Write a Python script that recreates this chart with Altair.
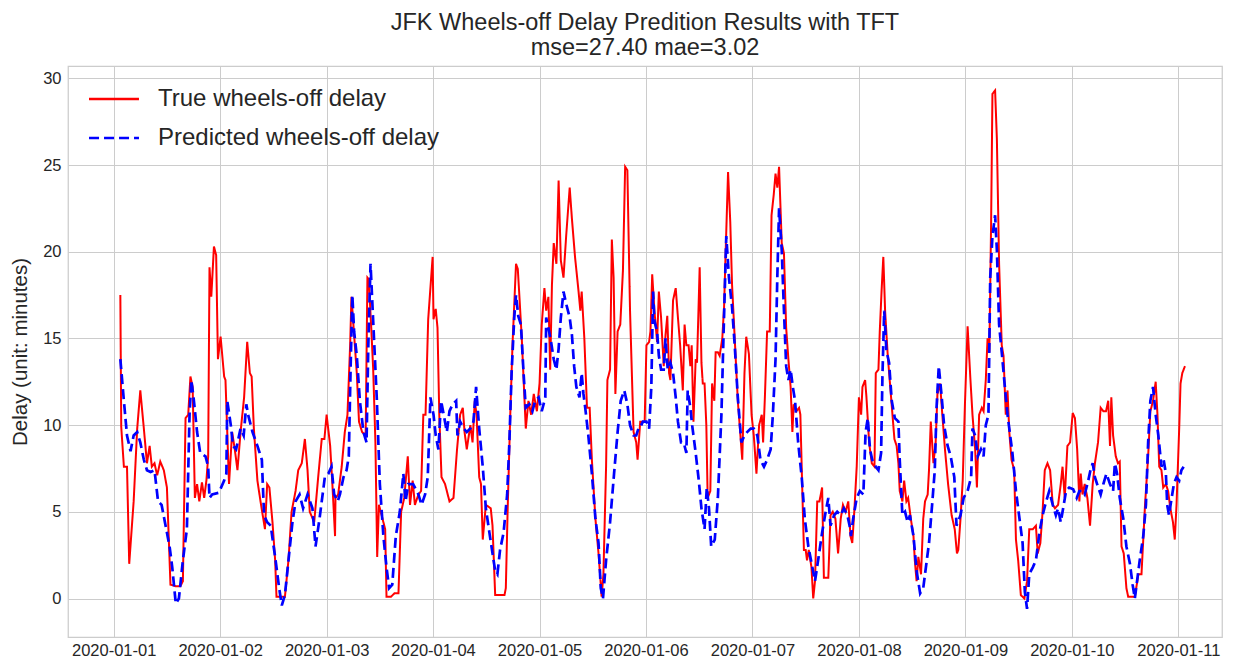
import altair as alt
import pandas as pd

# hours after 2020-01-01 00:00 (vertex positions)
true_hours = [1.5, 1.7, 2.3, 3.0, 3.5, 4.5, 5.3, 6.0, 6.8, 7.5, 8.1, 8.6, 9.2, 9.8, 10.5, 11.3, 12.0, 12.4, 12.8, 14.1,
              15.0, 15.6, 16.2, 16.8, 17.3, 17.8, 18.3, 18.8, 19.3, 19.9, 20.4, 20.9, 21.3, 21.6, 22.0, 22.6, 23.1, 23.5,
              24.1, 24.9, 25.2, 26.0, 26.7, 27.3, 27.9, 28.6, 29.4, 30.1, 30.7, 31.1, 31.6, 32.4, 33.1, 34.1, 34.6, 35.1,
              35.8, 36.4, 36.7, 38.6, 39.4, 40.1, 41.0, 41.6, 42.4, 43.1, 43.7, 44.2, 45.2, 46.1, 46.9, 47.5, 48.0, 48.8,
              49.3, 49.9, 50.0, 50.6, 51.4, 52.1, 52.7, 53.3, 53.6, 54.2, 54.8, 55.3, 56.0, 56.8, 57.2, 57.5, 58.1, 58.5,
              59.0, 59.4, 59.8, 60.6, 61.2, 61.5, 62.5, 63.3, 64.2, 64.8, 65.5, 66.3, 66.8, 67.4, 67.9, 68.7, 69.3, 69.8,
              70.3, 70.9, 71.9, 72.1, 72.6, 73.0, 73.4, 73.9, 74.7, 75.7, 76.6, 77.4, 78.1, 78.7, 79.1, 79.6, 80.4, 80.9,
              81.4, 81.8, 82.4, 82.8, 83.2, 83.9, 85.0, 85.4, 86.0, 88.1, 88.4, 88.8, 89.4, 89.9, 90.7, 91.1, 91.4, 92.0,
              92.9, 93.5, 94.1, 94.7, 95.4, 96.0, 96.5, 97.1, 97.5, 98.0, 98.4, 98.8, 99.2, 99.8, 100.3, 100.8, 101.4,
              102.0, 102.8, 103.3, 104.0, 104.8, 105.2, 105.5, 106.1, 106.7, 107.3, 107.8, 108.6, 109.3, 110.0, 110.4,
              111.0, 111.3, 111.9, 112.3, 112.7, 113.1, 113.6, 114.2, 114.8, 115.3, 115.8, 116.4, 117.2, 117.8, 118.1,
              118.7, 119.7, 120.1, 120.7, 121.0, 121.4, 121.9, 122.5, 122.9, 123.4, 124.0, 124.4, 124.8, 125.2, 125.5,
              126.1, 126.7, 127.2, 127.7, 128.3, 128.7, 129.1, 129.6, 130.0, 130.3, 130.7, 131.2, 131.5, 132.1, 132.5,
              132.8, 133.2, 133.6, 133.9, 134.5, 134.9, 135.4, 135.7, 136.2, 136.6, 137.2, 137.6, 137.9, 138.5, 139.0,
              139.4, 140.0, 140.7, 141.7, 142.2, 142.6, 143.2, 143.8, 144.3, 144.9, 145.5, 146.1, 146.4, 146.8, 147.3,
              147.9, 148.3, 148.8, 149.2, 149.6, 150.0, 150.6, 151.1, 151.6, 152.1, 152.6, 153.0, 153.3, 153.9, 154.5,
              154.8, 155.2, 155.6, 156.0, 156.3, 156.7, 157.3, 157.7, 158.1, 158.6, 159.1, 159.7, 160.1, 161.1, 161.6,
              162.1, 162.7, 163.3, 163.9, 164.4, 165.0, 165.6, 166.1, 166.5, 167.0, 167.5, 168.0, 168.5, 168.8, 169.4,
              169.7, 170.3, 170.9, 171.5, 171.8, 172.4, 172.7, 173.1, 173.5, 173.9, 174.5, 175.0, 175.5, 176.0, 176.5,
              176.9, 177.2, 177.8, 178.2, 178.7, 179.1, 179.7, 180.3, 180.6, 181.0, 181.4, 182.0, 182.5, 182.9, 183.5,
              183.8, 184.2, 184.8, 185.3, 185.7, 186.3, 186.8, 187.4, 188.1, 188.9, 189.6, 190.1, 190.4, 190.9, 191.4,
              191.9, 192.5, 193.1, 193.6, 194.2, 194.6, 195.1, 195.7, 196.1, 196.6, 197.0, 197.4, 197.8, 198.1, 198.7,
              199.1, 199.6, 200.2, 200.6, 201.1, 201.5, 201.9, 202.4, 203.0, 203.4, 203.9, 204.5, 205.3, 205.9, 206.4,
              207.2, 207.9, 208.3, 208.9, 209.4, 209.9, 210.5, 211.1, 211.7, 212.2, 212.9, 213.5, 213.9, 214.4, 215.0,
              215.6, 216.2, 216.7, 217.2, 217.7, 218.0, 218.4, 218.9, 219.5, 220.1, 220.7, 221.2, 221.9, 222.5, 223.1,
              223.7, 224.2, 224.6, 224.9, 225.3, 225.9, 226.4, 226.8, 227.2, 227.7, 228.3, 228.7, 230.2, 231.0, 231.7,
              232.5, 233.2, 233.7, 234.3, 234.9, 235.3, 235.7, 236.2, 236.6, 237.2, 237.7, 238.2, 238.8, 239.2, 239.6,
              240.2, 240.5, 240.9, 241.5]
true_vals = [17.5, 9.9, 7.6, 7.6, 2.0, 5.6, 9.8, 12.0, 9.8, 7.8, 8.8, 7.6, 7.8, 7.1, 7.9, 7.4, 6.4, 3.6, 0.8, 0.7,
             0.7, 1.0, 10.4, 10.6, 12.8, 12.2, 5.8, 6.6, 5.6, 6.7, 5.8, 6.8, 8.2, 19.1, 17.4, 20.3, 19.8, 13.8,
             15.1, 12.8, 12.6, 6.6, 9.6, 8.6, 7.4, 9.6, 11.6, 14.8, 13.0, 12.8, 9.8, 6.8, 5.6, 4.0, 6.6, 6.4,
             4.4, 2.2, 0.1, 0.1, 2.2, 5.0, 6.2, 7.4, 7.8, 9.2, 7.4, 5.0, 4.4, 7.0, 9.2, 9.2, 10.6, 8.8,
             6.6, 3.6, 5.8, 6.0, 7.6, 9.6, 10.6, 14.6, 17.4, 15.2, 13.0, 10.2, 9.6, 9.4, 18.5, 18.4, 15.4, 13.2,
             9.0, 2.4, 5.4, 4.6, 4.0, 0.1, 0.1, 0.3, 0.3, 5.0, 5.8, 8.2, 5.4, 6.8, 5.4, 6.0, 6.2, 10.6,
             10.6, 16.1, 19.7, 16.1, 16.7, 15.6, 10.6, 7.0, 6.6, 5.6, 5.8, 8.6, 10.6, 11.0, 9.6, 8.6, 10.0, 9.0,
             11.4, 10.6, 7.0, 6.6, 3.4, 5.4, 5.2, 4.2, 0.2, 0.2, 0.6, 5.0, 10.6, 14.6, 19.3, 19.0, 17.7, 15.0,
             9.8, 11.4, 10.6, 11.8, 10.8, 12.4, 15.8, 17.9, 16.6, 17.4, 13.2, 18.1, 20.5, 19.3, 24.1, 19.5, 18.5,
             20.9, 23.7, 21.9, 19.7, 17.7, 16.6, 17.7, 15.0, 11.0, 11.0, 8.0, 4.6, 2.6, 0.1, 1.4,
             7.6, 12.6, 13.2, 20.7, 18.5, 11.8, 15.4, 15.8, 18.9, 24.9, 24.7, 16.6, 9.6, 9.0, 8.0,
             10.2, 10.2, 14.6, 14.8, 15.4, 18.7, 16.6, 14.8, 17.7, 16.2, 13.4, 15.2, 16.3, 13.0, 12.6,
             17.2, 17.9, 16.2, 14.6, 12.0, 15.8, 14.6, 14.6, 13.4, 14.6, 10.2, 13.8, 13.6, 19.1, 13.6,
             12.4, 12.4, 10.0, 5.8, 6.2, 12.4, 11.4, 14.2, 14.2, 14.0, 15.0, 16.8, 19.5, 24.6, 21.7,
             18.1, 15.0, 11.4, 8.0, 13.0, 15.1, 14.1, 10.6, 9.4, 7.2, 10.0, 10.6, 9.0, 11.6, 15.4,
             15.4, 22.1, 23.3, 24.5, 23.7, 24.9, 20.5, 19.9, 15.6, 13.8, 12.2, 9.6, 11.2, 10.8, 11.0,
             10.6, 6.6, 2.8, 2.8, 2.2, 2.8, 1.8, 0.0, 1.0, 5.6, 5.6, 6.4, 1.2, 1.2, 4.8,
             5.0, 4.6, 2.6, 4.6, 5.4, 5.0, 5.6, 3.6, 3.2, 5.2, 7.6, 11.6, 10.6, 12.2, 12.6,
             11.6, 9.0, 7.8, 7.6, 13.0, 13.2, 15.4, 17.7, 19.7, 16.6, 14.0, 12.4, 10.8, 9.2, 8.8,
             7.8, 6.2, 5.6, 6.8, 5.6, 5.8, 4.6, 3.6, 2.2, 1.0, 2.4, 1.4, 4.6, 5.6, 6.0,
             7.4, 10.2, 7.8, 9.0, 11.8, 12.4, 10.6, 8.6, 6.6, 4.8, 4.0, 2.6, 2.8, 4.6, 6.8,
             11.2, 15.7, 12.8, 10.6, 8.6, 6.4, 10.6, 11.0, 10.8, 12.6, 15.0, 14.2, 21.7, 29.1, 29.3,
             26.5, 19.3, 14.6, 14.0, 10.6, 12.0, 9.6, 8.0, 7.4, 3.4, 2.2, 0.2, 0.0, 1.0, 4.0,
             4.0, 4.2, 2.6, 3.2, 5.0, 7.4, 7.8, 7.4, 5.4, 5.2, 5.4, 6.6, 7.6, 5.8, 8.8,
             9.0, 10.7, 10.4, 8.6, 5.6, 7.2, 6.0, 6.6, 5.8, 4.2, 6.6, 7.8, 9.0, 11.0, 10.8,
             10.8, 11.4, 8.8, 11.6, 9.4, 8.2, 7.8, 7.9, 3.0, 2.6, 0.6, 0.1, 0.1, 1.4, 1.4,
             5.4, 8.2, 10.8, 11.4, 12.5, 10.6, 7.6, 7.4, 6.4, 6.6, 6.2, 5.2, 4.4, 3.4, 5.4,
             9.8, 12.4, 13.0, 13.4]

pred_hours = [1.5, 2.3, 3.0, 3.8, 4.5, 5.3, 6.0, 6.8, 7.5, 8.3, 9.2, 10.0, 10.8, 11.7, 12.6, 13.2, 14.0, 14.7, 15.6,
              16.5, 17.1, 17.5, 18.0, 18.8, 19.5, 20.7, 21.3, 21.6, 22.2, 23.7, 24.9, 25.4, 25.6, 26.4, 26.9, 27.6,
              28.6, 29.3, 29.9, 30.3, 31.3, 32.4, 33.4, 33.9, 34.6, 35.4, 36.5, 37.3, 37.9, 38.6, 39.4, 40.3, 41.0,
              41.9, 42.7, 43.7, 44.8, 45.5, 46.4, 46.9, 47.6, 48.4, 49.1, 49.7, 50.5, 51.0, 51.8, 52.5, 53.0, 53.4,
              53.8, 54.2, 54.8, 55.5, 56.3, 57.0, 57.4, 57.9, 58.5, 59.3, 60.0, 60.8, 61.5, 62.1, 62.8, 63.6, 64.5,
              65.3, 65.8, 66.4, 67.5, 68.7, 69.4, 70.2, 70.8, 71.4, 72.1, 72.6, 73.2, 73.8, 74.4, 75.1, 75.7, 76.4,
              77.2, 77.5, 78.1, 78.9, 79.6, 80.4, 81.1, 81.7, 82.4, 83.2, 83.9, 84.7, 85.4, 86.0, 86.5, 87.1, 87.9,
              88.7, 89.2, 89.7, 90.3, 90.7, 91.2, 91.8, 92.4, 92.9, 93.7, 94.4, 95.0, 95.8, 96.5, 97.3, 97.5, 98.0,
              98.6, 99.2, 99.8, 100.3, 100.8, 101.4, 102.0, 102.8, 103.3, 103.8, 104.3, 105.0, 105.5, 105.9, 106.3,
              107.0, 107.8, 108.6, 109.3, 109.8, 110.3, 111.0, 111.9, 112.8, 113.6, 114.3, 115.1, 115.8, 116.4,
              117.2, 117.8, 118.3, 118.6, 119.3, 120.1, 120.7, 121.2, 121.6, 121.9, 122.5, 122.9, 123.4, 124.0,
              124.4, 124.9, 125.5, 126.1, 126.7, 127.2, 127.9, 128.5, 129.1, 129.4, 130.0, 130.4, 131.2, 131.9,
              132.5, 133.2, 133.7, 134.2, 134.7, 135.5, 136.2, 137.0, 137.5, 138.1, 138.7, 139.4, 140.0, 140.7,
              141.5, 142.2, 142.8, 143.6, 144.3, 145.1, 145.8, 146.6, 147.3, 148.1, 148.6, 149.2, 149.6, 150.0,
              150.6, 151.1, 151.6, 152.1, 152.6, 153.1, 153.6, 154.3, 155.1, 155.8, 156.6, 157.5, 158.1, 158.8,
              159.7, 160.5, 161.1, 161.6, 162.4, 163.1, 163.9, 164.6, 165.4, 165.9, 166.2, 166.7, 167.5, 168.2,
              169.0, 169.5, 170.0, 170.5, 171.0, 171.8, 172.4, 173.0, 173.3, 173.7, 174.2, 174.8, 175.4, 176.1,
              176.9, 177.2, 177.8, 178.4, 179.0, 179.5, 180.3, 181.0, 181.8, 182.5, 183.0, 183.8, 184.5, 185.1,
              185.5, 186.0, 186.6, 187.2, 188.0, 188.7, 189.5, 190.0, 190.9, 191.6, 192.5, 193.3, 193.6, 194.2,
              194.8, 195.5, 196.1, 196.6, 197.2, 197.6, 198.1, 198.7, 199.1, 199.6, 200.2, 200.9, 201.5, 202.1,
              202.6, 203.4, 204.2, 204.9, 205.4, 205.9, 206.4, 207.2, 207.9, 208.7, 209.4, 210.2, 210.9, 211.7,
              212.4, 212.9, 213.5, 214.7, 215.4, 216.3, 217.1, 217.7, 218.4, 218.9, 219.7, 220.2, 220.7, 221.2,
              221.7, 222.5, 223.1, 223.8, 224.6, 225.3, 225.7, 226.2, 226.8, 227.6, 228.3, 229.1, 229.7, 230.2,
              230.7, 231.3, 232.1, 232.7, 233.2, 233.7, 234.3, 234.9, 235.5, 236.2, 236.7, 237.2, 237.5, 237.9,
              238.5, 239.0, 239.6, 240.2, 240.7, 241.2]
pred_vals = [13.8, 11.4, 9.4, 8.5, 9.4, 9.6, 9.0, 8.0, 7.4, 7.3, 7.4, 5.6, 5.4, 4.2, 3.0, 1.8, -0.3, 0.0, 2.2,
             4.0, 10.6, 12.6, 11.6, 9.6, 8.4, 8.2, 7.6, 5.8, 6.0, 6.1, 6.8, 7.2, 11.4, 10.0, 8.8, 8.6,
             9.8, 9.4, 11.2, 10.6, 9.6, 8.8, 8.0, 4.8, 4.4, 4.2, 2.2, 0.6, -0.4, 0.2, 2.2, 4.4, 5.6,
             6.0, 5.2, 6.0, 5.2, 3.0, 4.6, 5.6, 7.0, 7.2, 7.6, 6.0, 5.6, 6.0, 7.0, 7.4, 8.2, 13.2,
             17.5, 15.4, 14.0, 11.4, 9.6, 9.0, 14.6, 19.3, 16.0, 11.6, 6.6, 3.6, 1.8, 0.6, 0.8, 3.6, 5.0,
             7.2, 5.6, 6.6, 6.6, 6.0, 5.4, 6.0, 7.0, 11.6, 10.6, 9.4, 8.6, 11.4, 10.6, 9.6, 10.8, 11.2,
             11.4, 9.4, 10.2, 9.8, 9.6, 9.8, 10.2, 12.2, 9.8, 7.6, 5.2, 3.8, 2.6, 1.6, 1.4, 2.8, 3.8,
             6.0, 9.0, 13.0, 16.2, 17.5, 16.3, 15.8, 13.0, 11.0, 11.2, 10.8, 11.4, 11.6, 10.8, 11.6, 16.2, 15.6,
             14.8, 13.8, 13.2, 14.4, 16.2, 17.7, 17.0, 16.2, 15.2, 13.4, 12.2, 11.6, 13.0, 11.8, 11.0,
             9.4, 7.2, 4.6, 3.2, 0.6, 0.0, 2.2, 4.4, 7.2, 9.6, 11.4, 12.0, 11.2, 10.0,
             9.4, 9.4, 9.8, 9.8, 10.2, 10.2, 9.8, 12.2, 17.7, 16.0, 15.4, 14.0, 13.2, 13.2,
             15.0, 13.2, 13.6, 13.0, 11.6, 10.2, 9.0, 9.0, 8.4, 12.0, 11.0, 10.0, 8.4, 6.8,
             5.2, 4.0, 6.4, 5.2, 3.0, 3.4, 5.8, 10.6, 15.4, 20.9, 18.5, 16.8, 14.6, 11.6,
             9.0, 9.4, 9.6, 9.8, 9.8, 9.4, 8.0, 7.6, 8.0, 8.6, 10.6, 13.8, 18.5, 22.5,
             20.1, 16.6, 13.4, 12.6, 13.2, 12.2, 11.4, 9.0, 7.0, 4.6, 3.0, 1.8, 1.0, 2.2,
             3.8, 5.0, 5.8, 4.2, 4.8, 5.0, 4.8, 5.2, 4.8, 4.2, 3.6, 4.6, 5.8, 6.2,
             6.0, 9.6, 10.4, 8.6, 8.0, 7.6, 7.4, 8.4, 12.8, 16.6, 14.3, 13.6, 11.4, 10.4,
             10.2, 8.0, 4.8, 5.0, 4.4, 4.8, 3.6, 1.6, 0.3, 0.6, 1.6, 3.2, 5.4, 7.4,
             11.0, 13.4, 11.8, 10.0, 8.8, 8.2, 7.0, 4.2, 4.8, 5.8, 6.2, 7.0, 9.8, 9.4,
             8.2, 8.6, 8.2, 10.0, 10.6, 18.5, 20.9, 22.1, 20.1, 15.8, 14.2, 12.2, 10.6, 9.4,
             8.4, 6.2, 4.6, 3.2, 0.4, -0.6, 1.4, 1.8, 2.2, 3.8, 4.8, 5.6, 6.2, 5.4,
             4.8, 5.2, 4.4, 6.2, 6.4, 6.3, 5.8, 6.2, 6.2, 6.0, 6.8, 7.4, 7.8, 7.0,
             6.6, 6.0, 6.6, 7.2, 6.6, 6.2, 7.8, 7.2, 5.8, 4.6, 3.0, 2.0, 0.8, 0.0,
             1.0, 2.2, 3.6, 5.4, 9.0, 11.4, 12.2, 10.6, 9.4, 7.6, 8.0, 7.2, 5.4, 4.8,
             5.8, 6.6, 7.0, 6.8, 7.4, 7.6]

series_names = ["True wheels-off delay", "Predicted wheels-off delay"]
series_colors = ["#ff0000", "#0000ff"]
tick_days = list(range(1, 12))
y_ticks = [0, 5, 10, 15, 20, 25, 30]
title_lines = ["JFK Wheels-off Delay Predition Results with TFT", "mse=27.40 mae=3.02"]
y_title = "Delay (unit: minutes)"

base = pd.Timestamp("2020-01-01 00:00:00")


def to_iso(hours):
    return [(base + pd.Timedelta(hours=h)).strftime("%Y-%m-%dT%H:%M:%SZ") for h in hours]


df_true = pd.DataFrame({"time": to_iso(true_hours), "delay": true_vals, "series": series_names[0]})
df_pred = pd.DataFrame({"time": to_iso(pred_hours), "delay": pred_vals, "series": series_names[1]})

FONT = "Liberation Sans"
TXT = "#262626"

legend = alt.Legend(
    title=None, orient="none", legendX=26, legendY=13,
    symbolType="M-1.35,0H1.35", symbolSize=1369, symbolStrokeWidth=2.6,
    labelFontSize=24, labelFont=FONT, labelColor=TXT, labelOffset=24,
    rowPadding=7, padding=0, labelLimit=0,
)

x_enc = alt.X(
    "time:T",
    scale=alt.Scale(
        type="utc", nice=False,
        domain=[alt.DateTime(year=2019, month=12, date=31, hours=13, minutes=42, utc=True),
                alt.DateTime(year=2020, month=1, date=11, hours=9, minutes=51, utc=True)],
    ),
    axis=alt.Axis(
        title=None,
        values=[alt.DateTime(year=2020, month=1, date=d, utc=True) for d in tick_days],
        labelExpr="utcFormat(datum.value, '%Y-%m-%d')",
        labelPadding=5,
    ),
)
y_enc = alt.Y(
    "delay:Q",
    scale=alt.Scale(domain=[-2.22, 30.71], nice=False, zero=False),
    axis=alt.Axis(values=y_ticks, title=y_title, titleFontSize=20.5, titleFont=FONT,
                  titleFontWeight="normal", titleColor=TXT, titlePadding=12, labelPadding=7),
)
color_enc = alt.Color("series:N", scale=alt.Scale(domain=series_names, range=series_colors), legend=legend)
dash_enc = alt.StrokeDash("series:N", scale=alt.Scale(domain=series_names, range=[[1, 0], [10, 5]]), legend=legend)

true_line = alt.Chart(df_true).mark_line(strokeWidth=2.0, clip=True).encode(
    x=x_enc, y=y_enc, color=color_enc, strokeDash=dash_enc)
pred_line = alt.Chart(df_pred).mark_line(strokeWidth=2.7, clip=True).encode(
    x=x_enc, y=y_enc, color=color_enc, strokeDash=dash_enc)

chart = (
    alt.layer(true_line, pred_line)
    .properties(
        width=1154, height=571,
        title=alt.TitleParams(text=title_lines, fontSize=23.5, font=FONT, fontWeight="normal",
                              color=TXT, lineHeight=25, offset=7, anchor="middle"),
        autosize=alt.AutoSizeParams(type="none"),
        padding={"left": 60, "top": 58, "right": 8, "bottom": 26},
    )
    .configure_view(stroke="#cccccc", strokeWidth=1.25)
    .configure_axis(domain=False, ticks=False, grid=True, gridColor="#cccccc", gridWidth=1,
                    labelFont=FONT, labelFontSize=16.5, labelColor=TXT)
)

chart.save("out.html", embed_options={"renderer": "svg", "actions": False})
